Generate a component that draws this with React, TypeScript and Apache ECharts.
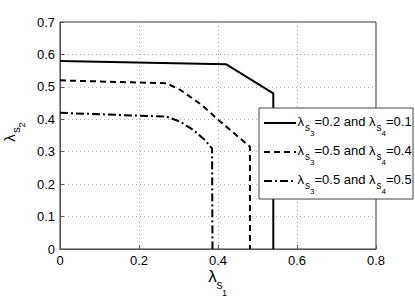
import React, { useEffect, useRef } from "react";
import * as echarts from "echarts";

const xTicks = [0, 0.2, 0.4, 0.6, 0.8];
const yTicks = [0, 0.1, 0.2, 0.3, 0.4, 0.5, 0.6, 0.7];

const solidX = [0, 0.42, 0.54, 0.54];
const solidY = [0.58, 0.57, 0.48, 0];

const dashedX = [0, 0.27, 0.304, 0.359, 0.401, 0.456, 0.481, 0.481];
const dashedY = [0.52, 0.511, 0.491, 0.444, 0.398, 0.341, 0.315, 0];

const dashDotX = [0, 0.27, 0.304, 0.337, 0.367, 0.385, 0.386];
const dashDotY = [0.42, 0.408, 0.393, 0.367, 0.336, 0.31, 0];

const legendVals = [
  ["0.2", "0.1"],
  ["0.5", "0.4"],
  ["0.5", "0.5"],
];

const FONT = "Liberation Sans";

function zip(xs: number[], ys: number[]) {
  return xs.map((x, i) => [x, ys[i]]);
}

function txt(x: number, y: number, text: string, size: number, extra: any = {}) {
  return {
    type: "text",
    x,
    y,
    z: 101,
    style: {
      text,
      fontFamily: FONT,
      fontSize: size,
      fill: "#000",
      align: "left",
      verticalAlign: "middle",
      ...extra,
    },
  };
}

export default function App() {
  const ref = useRef<HTMLDivElement>(null);
  useEffect(() => {
    if (!ref.current) return;
    const chart = echarts.init(ref.current, undefined, { renderer: "svg" });
    const lineStyles: any[] = [
      { type: "solid" },
      { type: [6, 4] },
      { type: [8, 3, 2, 3] },
    ];
    const legendRows = [123, 152, 181];
    const legendGraphics: any[] = [
      {
        type: "rect",
        shape: { x: 259, y: 108, width: 154, height: 91 },
        style: { fill: "#fff", stroke: "#444", lineWidth: 1 },
        z: 100,
      },
    ];
    const MAIN = 13;
    const SUB = 10;
    const SUB2 = 8;
    legendVals.forEach((v, i) => {
      const cy = legendRows[i];
      legendGraphics.push({
        type: "line",
        shape: { x1: 264, y1: cy, x2: 296, y2: cy },
        style: { stroke: "#000", lineWidth: 2, lineDash: i === 0 ? null : lineStyles[i].type },
        z: 101,
      });
      const ty = cy - 2;
      legendGraphics.push(txt(297.5, ty, "λ", MAIN, { lineHeight: 10 }));
      legendGraphics.push(txt(305, ty + 6, "s", SUB, { lineHeight: 6 }));
      legendGraphics.push(txt(310, ty + 12.5, "3", SUB2, { lineHeight: 6 }));
      legendGraphics.push(txt(314.5, ty, `=${v[0]} and λ`, MAIN, { lineHeight: 10 }));
      legendGraphics.push(txt(376.5, ty + 6, "s", SUB, { lineHeight: 6 }));
      legendGraphics.push(txt(381.5, ty + 12.5, "4", SUB2, { lineHeight: 6 }));
      legendGraphics.push(txt(386, ty, `=${v[1]}`, MAIN, { lineHeight: 10 }));
    });
    const option: any = {
      animation: false,
      backgroundColor: "#fff",
      grid: {
        left: 60,
        right: 39,
        top: 22,
        bottom: 49,
        show: true,
        borderColor: "#333",
        borderWidth: 1,
      },
      xAxis: {
        type: "value",
        min: 0,
        max: 0.8,
        interval: 0.2,
        axisLine: { show: true, onZero: false, lineStyle: { color: "#555" } },
        axisTick: { show: true, inside: true, length: 4, lineStyle: { color: "#555" } },
        axisLabel: {
          fontFamily: FONT,
          fontSize: 13,
          color: "#000",
          margin: 5,
          formatter: (v: number) => {
            const r = Math.round(v * 10) / 10;
            return xTicks.includes(r) ? String(r) : "";
          },
        },
        splitLine: { show: true, lineStyle: { color: "#aaa", type: [1, 3], width: 1 } },
      },
      yAxis: {
        type: "value",
        min: 0,
        max: 0.7,
        interval: 0.1,
        axisLine: { show: true, onZero: false, lineStyle: { color: "#555" } },
        axisTick: { show: true, inside: true, length: 4, lineStyle: { color: "#555" } },
        axisLabel: {
          fontFamily: FONT,
          fontSize: 13,
          color: "#000",
          margin: 5,
          formatter: (v: number) => {
            const r = Math.round(v * 10) / 10;
            return yTicks.includes(r) ? String(r) : "";
          },
        },
        splitLine: { show: true, lineStyle: { color: "#aaa", type: [1, 3], width: 1 } },
      },
      graphic: [
        // x-axis title
        txt(212.5, 276.5, "λ", 17, { align: "center", lineHeight: 10 }),
        txt(219.5, 285, "s", 12, { align: "center", lineHeight: 7 }),
        txt(224.5, 292.5, "1", 9, { align: "center", lineHeight: 7 }),
        // y-axis title (rotated)
        { ...txt(9, 138, "λ", 15, { align: "center", lineHeight: 10 }), rotation: Math.PI / 2 },
        { ...txt(16, 130, "s", 11, { align: "center", lineHeight: 6 }), rotation: Math.PI / 2 },
        { ...txt(21.5, 125, "2", 9, { align: "center", lineHeight: 6 }), rotation: Math.PI / 2 },
        ...legendGraphics,
      ],
      series: [
        { data: zip(solidX, solidY) },
        { data: zip(dashedX, dashedY) },
        { data: zip(dashDotX, dashDotY) },
      ].map((s, i) => ({
        type: "line",
        data: s.data,
        showSymbol: false,
        symbol: "none",
        lineStyle: { color: "#000", width: 2, type: lineStyles[i].type },
      })),
    };
    chart.setOption(option);
    return () => chart.dispose();
  }, []);
  return <div ref={ref} style={{ width: 415, height: 298, position: "absolute", left: 0, top: 0 }} />;
}
